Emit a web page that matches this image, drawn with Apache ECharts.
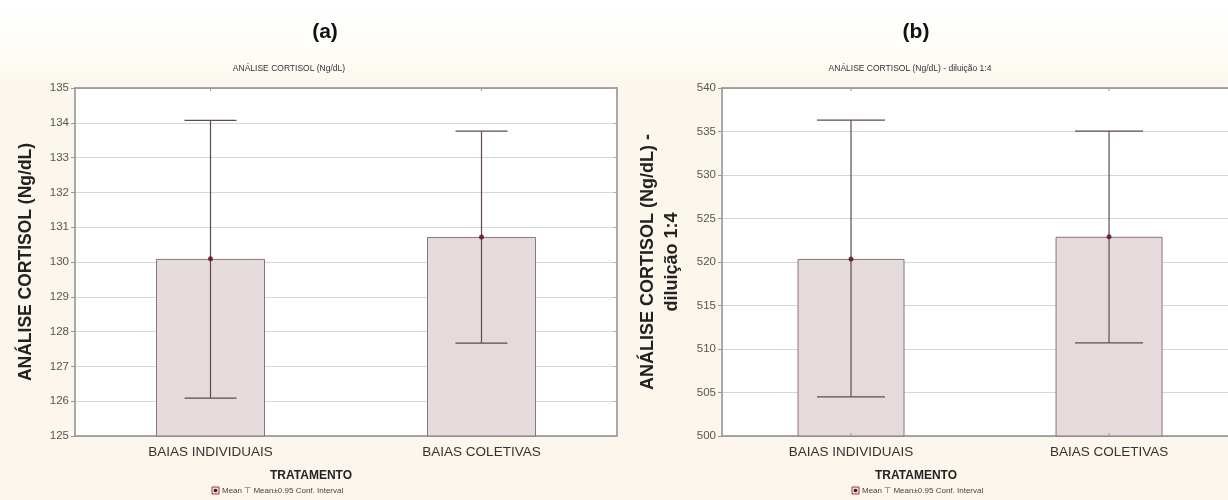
<!DOCTYPE html>
<html>
<head>
<meta charset="utf-8">
<script src="https://cdn.jsdelivr.net/npm/echarts@6/dist/echarts.min.js"></script>
<style>
  html, body { margin: 0; padding: 0; background: #ffffff; }
  #chart { width: 1228px; height: 500px; }
</style>
</head>
<body>
<div id="chart"></div>
<script>
// Treatment groups
const categories = ['BAIAS INDIVIDUAIS', 'BAIAS COLETIVAS'];

// (a) cortisol, Ng/dL: group means and 0.95 confidence limits
const meanA = [130.09, 130.72];
const lowA = [126.09, 127.67];
const highA = [134.07, 133.76];

// (b) cortisol, Ng/dL, 1:4 dilution
const meanB = [520.35, 522.90];
const lowB = [504.50, 510.70];
const highB = [536.30, 535.05];

// Value-axis ranges
const axisA = { min: 125, max: 135, interval: 1 };
const axisB = { min: 500, max: 540, interval: 5 };

// Panel (b) runs off the right edge of the figure: its group axis is a
// numeric axis whose visible span ends partway through the second band.
const GROUP_SPAN_B = { min: -0.5, max: 1.461 };

const FONT = '"Liberation Sans", Arial, sans-serif';
const BAR_FILL = '#e5dbdc';
const BAR_EDGE = '#8e7276';
const WHISKER = '#5e4b50';
const MEAN_DOT = '#5c0c1c';
const LABEL_SIZE = 13.5;

const chart = echarts.init(document.getElementById('chart'), null, { renderer: 'canvas' });

function whiskerSeries(xIdx, yIdx, low, high, capHalf) {
  return {
    type: 'custom',
    xAxisIndex: xIdx,
    yAxisIndex: yIdx,
    z: 5,
    data: categories.map((c, i) => [i, low[i], high[i]]),
    renderItem: function (params, api) {
      const x = api.value(0);
      const lo = api.coord([x, api.value(1)]);
      const hi = api.coord([x, api.value(2)]);
      const style = { stroke: WHISKER, lineWidth: 1.2 };
      return {
        type: 'group',
        children: [
          { type: 'line', shape: { x1: lo[0], y1: lo[1], x2: hi[0], y2: hi[1] }, style },
          { type: 'line', shape: { x1: hi[0] - capHalf, y1: hi[1], x2: hi[0] + capHalf, y2: hi[1] }, style },
          { type: 'line', shape: { x1: lo[0] - capHalf, y1: lo[1], x2: lo[0] + capHalf, y2: lo[1] }, style }
        ]
      };
    }
  };
}

// Group labels and centre ticks for the numeric group axis of panel (b)
function groupLabelSeries(xIdx, yIdx, range) {
  return {
    type: 'custom',
    xAxisIndex: xIdx,
    yAxisIndex: yIdx,
    z: 7,
    clip: false,
    silent: true,
    data: categories.map((c, i) => [i]),
    renderItem: function (params, api) {
      const i = api.value(0);
      const bottom = api.coord([i, range.min]);
      const top = api.coord([i, range.max]);
      const tick = { stroke: '#999', lineWidth: 1 };
      return {
        type: 'group',
        children: [
          { type: 'line', shape: { x1: bottom[0], y1: bottom[1], x2: bottom[0], y2: bottom[1] - 3 }, style: tick },
          { type: 'line', shape: { x1: top[0], y1: top[1], x2: top[0], y2: top[1] + 3 }, style: tick },
          {
            type: 'text',
            x: bottom[0],
            y: bottom[1] + 9,
            style: {
              text: categories[i],
              fontFamily: FONT,
              fontSize: LABEL_SIZE,
              fill: '#333',
              align: 'center',
              verticalAlign: 'top'
            }
          }
        ]
      };
    }
  };
}

function barSeries(xIdx, yIdx, data, width) {
  return {
    type: 'bar',
    xAxisIndex: xIdx,
    yAxisIndex: yIdx,
    barWidth: width,
    data: data,
    z: 3,
    itemStyle: { color: BAR_FILL, borderColor: BAR_EDGE, borderWidth: 1 },
    emphasis: { disabled: true }
  };
}

function meanSeries(xIdx, yIdx, means) {
  return {
    type: 'scatter',
    xAxisIndex: xIdx,
    yAxisIndex: yIdx,
    symbol: 'circle',
    symbolSize: 5,
    z: 6,
    data: means.map((m, i) => [i, m]),
    itemStyle: { color: MEAN_DOT }
  };
}

function catAxis(gridIndex, showLabels) {
  return {
    type: 'category',
    gridIndex: gridIndex,
    data: categories,
    position: showLabels ? 'bottom' : 'top',
    axisLine: { show: true, lineStyle: { color: '#8c8c8c', width: 1.5 } },
    axisTick: { show: true, alignWithLabel: true, inside: true, length: 3, lineStyle: { color: '#999' } },
    axisLabel: showLabels
      ? { show: true, color: '#333', fontFamily: FONT, fontSize: LABEL_SIZE, margin: 9 }
      : { show: false },
    splitLine: { show: false }
  };
}

function spanAxis(gridIndex, span, position) {
  return {
    type: 'value',
    gridIndex: gridIndex,
    position: position,
    min: span.min,
    max: span.max,
    axisLine: { show: true, onZero: false, lineStyle: { color: '#8c8c8c', width: 1.5 } },
    axisTick: { show: false },
    axisLabel: { show: false },
    splitLine: { show: false }
  };
}

function valAxis(gridIndex, range, name, nameGap, nameSize) {
  return {
    type: 'value',
    gridIndex: gridIndex,
    position: 'left',
    min: range.min,
    max: range.max,
    interval: range.interval,
    name: name,
    nameLocation: 'middle',
    nameGap: nameGap,
    nameRotate: 90,
    nameTextStyle: { fontFamily: FONT, fontSize: nameSize, fontWeight: 'bold', color: '#222', lineHeight: 24 },
    axisLine: { show: true, onZero: false, lineStyle: { color: '#8c8c8c', width: 1.5 } },
    axisTick: { show: true, length: 4, lineStyle: { color: '#999' } },
    axisLabel: { color: '#555', fontFamily: FONT, fontSize: 11.5, margin: 6 },
    splitLine: { show: true, lineStyle: { color: '#d6d6d6', width: 1 } }
  };
}

function sideAxis(gridIndex, range) {
  return {
    type: 'value',
    gridIndex: gridIndex,
    position: 'right',
    min: range.min,
    max: range.max,
    interval: range.interval,
    axisLine: { show: true, onZero: false, lineStyle: { color: '#8c8c8c', width: 1.5 } },
    axisTick: { show: true, inside: true, length: 3, lineStyle: { color: '#aaa' } },
    axisLabel: { show: false },
    splitLine: { show: false }
  };
}

function legendGraphic(cx, cy) {
  return {
    type: 'group',
    x: cx,
    y: cy,
    children: [
      { type: 'rect', shape: { x: -60, y: -4, width: 7, height: 7 }, style: { fill: '#f1dede', stroke: '#9a3a4a', lineWidth: 1 } },
      { type: 'circle', shape: { cx: -56.5, cy: -0.5, r: 1.8 }, style: { fill: MEAN_DOT } },
      {
        type: 'text',
        x: -50,
        y: 0,
        style: {
          text: 'Mean \u22A4 Mean\u00B10.95 Conf. Interval',
          fontFamily: FONT,
          fontSize: 8,
          fill: '#444',
          verticalAlign: 'middle',
          align: 'left'
        }
      }
    ]
  };
}

const titleStyle = { fontFamily: FONT, fontSize: 21, fontWeight: 'bold', color: '#111' };
const subStyle = { fontFamily: FONT, fontSize: 8.5, fontWeight: 'normal', color: '#333' };
const xNameStyle = { fontFamily: FONT, fontSize: 12, fontWeight: 'bold', color: '#222' };

const option = {
  backgroundColor: 'transparent',
  animation: false,
  graphic: [
    {
      type: 'rect',
      z: -10,
      silent: true,
      shape: { x: 0, y: 0, width: 1228, height: 500 },
      style: {
        fill: new echarts.graphic.LinearGradient(0, 0, 0, 1, [
          { offset: 0, color: '#ffffff' },
          { offset: 0.1, color: '#fefdf9' },
          { offset: 0.17, color: '#fcf7ec' },
          { offset: 1, color: '#fcf6ec' }
        ])
      }
    },
    legendGraphic(272, 491),
    legendGraphic(912, 491)
  ],
  title: [
    { text: '(a)', left: 325, top: 22, padding: 0, textAlign: 'center', textStyle: titleStyle },
    { text: '(b)', left: 916, top: 22, padding: 0, textAlign: 'center', textStyle: titleStyle },
    { text: 'ANÁLISE CORTISOL (Ng/dL)', left: 289, top: 64, padding: 0, textAlign: 'center', textStyle: subStyle },
    { text: 'ANÁLISE CORTISOL (Ng/dL) - diluição 1:4', left: 910, top: 64, padding: 0, textAlign: 'center', textStyle: subStyle },
    { text: 'TRATAMENTO', left: 311, top: 470, padding: 0, textAlign: 'center', textStyle: xNameStyle },
    { text: 'TRATAMENTO', left: 916, top: 470, padding: 0, textAlign: 'center', textStyle: xNameStyle }
  ],
  grid: [
    { left: 75, top: 88, width: 542, height: 348, show: true, backgroundColor: '#ffffff', borderWidth: 0 },
    { left: 722, top: 88, right: 0, height: 348, show: true, backgroundColor: '#ffffff', borderWidth: 0 }
  ],
  xAxis: [
    catAxis(0, true),
    catAxis(0, false),
    spanAxis(1, GROUP_SPAN_B, 'bottom'),
    spanAxis(1, GROUP_SPAN_B, 'top')
  ],
  yAxis: [
    valAxis(0, axisA, 'ANÁLISE CORTISOL (Ng/dL)', 37, 17.5),
    sideAxis(0, axisA),
    valAxis(1, axisB, 'ANÁLISE CORTISOL (Ng/dL) -\ndiluição 1:4', 38, 18)
  ],
  series: [
    barSeries(0, 0, meanA, 109),
    whiskerSeries(0, 0, lowA, highA, 26),
    meanSeries(0, 0, meanA),
    barSeries(2, 2, meanB.map((m, i) => [i, m]), 107),
    whiskerSeries(2, 2, lowB, highB, 34),
    meanSeries(2, 2, meanB),
    groupLabelSeries(2, 2, axisB)
  ]
};

chart.setOption(option);
</script>
</body>
</html>
